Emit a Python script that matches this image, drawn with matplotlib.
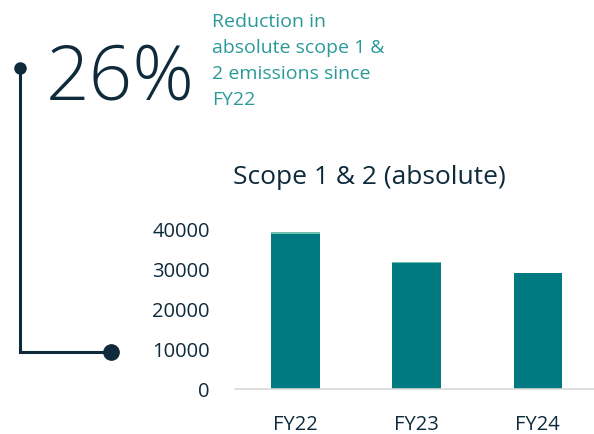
import matplotlib
matplotlib.use("Agg")
import matplotlib.pyplot as plt

categories = ["FY22", "FY23", "FY24"]
main_values = [38600, 31200, 28800]
top_values = [400, 450, 150]
yticks = [0, 10000, 20000, 30000, 40000]

NAVY = "#0e2a3b"
TEAL = "#007a80"
LIGHT = "#6cc0ad"
TEXT_TEAL = "#2a9a98"
FONT = ["Open Sans", "DejaVu Sans"]

W, H = 594, 435
fig = plt.figure(figsize=(W / 100, H / 100), dpi=100)

ax_left, ax_right = 235, 596
ax_bottom, ax_top = 390, 221
ymax = 42000
ax = fig.add_axes([ax_left / W, 1 - ax_bottom / H, (ax_right - ax_left) / W, (ax_bottom - ax_top) / H])
x = range(len(categories))
ax.bar(x, main_values, width=0.4, color=TEAL, zorder=2)
ax.bar(x, top_values, bottom=main_values, width=0.4, color=LIGHT, zorder=2)
ax.set_xlim(-0.5, 2.48)
ax.set_ylim(0, ymax)
ax.set_yticks(yticks)
ax.set_yticklabels([str(v) for v in yticks], fontsize=14.5, color=NAVY, family=FONT)
ax.set_xticks(list(x))
ax.set_xticklabels(categories, fontsize=14.5, color=NAVY, family=FONT)
ax.tick_params(axis="both", length=0)
ax.tick_params(axis="y", pad=18)
ax.tick_params(axis="x", pad=18)
for s in ["top", "right", "left"]:
    ax.spines[s].set_visible(False)
ax.spines["bottom"].set_color("#d9d9d9")
ax.spines["bottom"].set_linewidth(1.2)
ax.patch.set_alpha(0)

ov = fig.add_axes([0, 0, 1, 1])
ov.set_xlim(0, W)
ov.set_ylim(H, 0)
ov.axis("off")
ov.patch.set_alpha(0)

ov.text(233, 178, "Scope 1 & 2 (absolute)", fontsize=19, color=NAVY, family=FONT,
        va="center", ha="left")
ov.text(46, 80, "26%", fontsize=55, color=NAVY, family=FONT, fontweight="light",
        va="center", ha="left")
ov.text(212, 13, "Reduction in\nabsolute scope 1 &\n2 emissions since\nFY22", fontsize=14,
        color=TEXT_TEAL, family=FONT, va="top", ha="left", linespacing=1.56)

ov.plot([20, 20, 111], [69, 353, 353], color=NAVY, lw=2.2, solid_joinstyle="miter")
ov.plot([20], [69], "o", color=NAVY, markersize=8)
ov.plot([111], [353], "o", color=NAVY, markersize=11)

fig.savefig("out.png", dpi=100)
